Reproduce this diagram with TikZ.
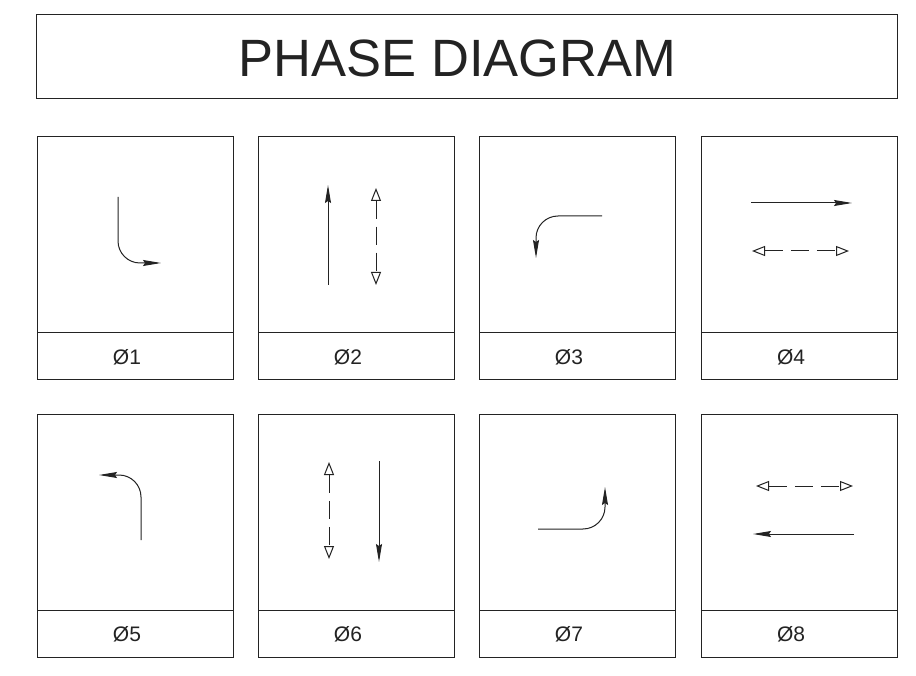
\documentclass[tikz,border=0pt]{standalone}
\usepackage{fontspec}
\setmainfont{Liberation Sans}
\usetikzlibrary{arrows.meta,calc}
\definecolor{ink}{RGB}{35,35,35}
\tikzset{
  frame/.style={draw=ink,line width=1pt,inner sep=0pt,outer sep=0pt},
  upper/.style={frame,minimum width=196pt,minimum height=196pt,anchor=north west},
  lower/.style={frame,minimum width=196pt,minimum height=47pt,anchor=north west},
  lbl/.style={text=ink,font=\fontsize{21}{21}\selectfont,inner sep=0pt},
  solidarrow/.style={draw=ink,line width=1pt,-{Stealth[length=18pt,width=6pt,inset=2pt]}},
  dasharrow/.style={draw=ink,line width=1pt,dash pattern=on 18pt off 8pt,
    {Triangle[open,length=13pt,width=10pt,fill=white]}-{Triangle[open,length=13pt,width=10pt,fill=white]}},
  bent/.style={solidarrow,rounded corners=22pt},
}
\begin{document}
\begin{tikzpicture}[x=1pt,y=-1pt]
\useasboundingbox (0,0) rectangle (916,676);
\fill[white] (0,0) rectangle (916,676);
% title
\node[frame,minimum width=861pt,minimum height=84pt,anchor=north west] (title) at (36,15) {};
\node[text=ink,font=\fontsize{52.5}{52.5}\selectfont,inner sep=0pt] (titletext) at ($(title.center)+(-9,1)$) {PHASE DIAGRAM};
% panels
\foreach \i/\x/\y in {1/37/137,2/258/137,3/479/137,4/701/137,5/37/414,6/258/414,7/479/414,8/701/414}{
  \node[upper] (u\i) at (\x,\y) {};
  \node[lower] (l\i) at (u\i.south west) {};
  \node[lbl] (t\i) at ($(l\i.center)+(-8,1)$) {Ø\i};
}
% panel 1
\coordinate (a1s) at (118,197);
\coordinate (a1c) at (118,263);
\coordinate (a1e) at (161,263);
\draw[bent] (a1s) -- (a1c) -- (a1e);
% panel 2
\coordinate (a2s) at (328,285);
\coordinate (a2e) at (328,185);
\draw[solidarrow] (a2s) -- (a2e);
\coordinate (d2s) at (376,188);
\coordinate (d2e) at (376,285);
\draw[dasharrow] (d2s) -- (d2e);
% panel 3
\coordinate (a3s) at (602,216);
\coordinate (a3c) at (536,216);
\coordinate (a3e) at (536,258);
\draw[bent] (a3s) -- (a3c) -- (a3e);
% panel 4
\coordinate (a4s) at (751,203);
\coordinate (a4e) at (852,203);
\draw[solidarrow] (a4s) -- (a4e);
\coordinate (d4s) at (752,251);
\coordinate (d4e) at (849,251);
\draw[dasharrow] (d4s) -- (d4e);
% panel 5
\coordinate (a5s) at (141,540);
\coordinate (a5c) at (141,475);
\coordinate (a5e) at (99,475);
\draw[bent] (a5s) -- (a5c) -- (a5e);
% panel 6
\coordinate (d6s) at (329,462);
\coordinate (d6e) at (329,559);
\draw[dasharrow] (d6s) -- (d6e);
\coordinate (a6s) at (379,461);
\coordinate (a6e) at (379,562);
\draw[solidarrow] (a6s) -- (a6e);
% panel 7
\coordinate (a7s) at (538,529);
\coordinate (a7c) at (605,529);
\coordinate (a7e) at (605,487);
\draw[bent] (a7s) -- (a7c) -- (a7e);
% panel 8
\coordinate (d8s) at (756,486);
\coordinate (d8e) at (853,486);
\draw[dasharrow] (d8s) -- (d8e);
\coordinate (a8s) at (854,534);
\coordinate (a8e) at (753,534);
\draw[solidarrow] (a8s) -- (a8e);
\end{tikzpicture}
\end{document}
